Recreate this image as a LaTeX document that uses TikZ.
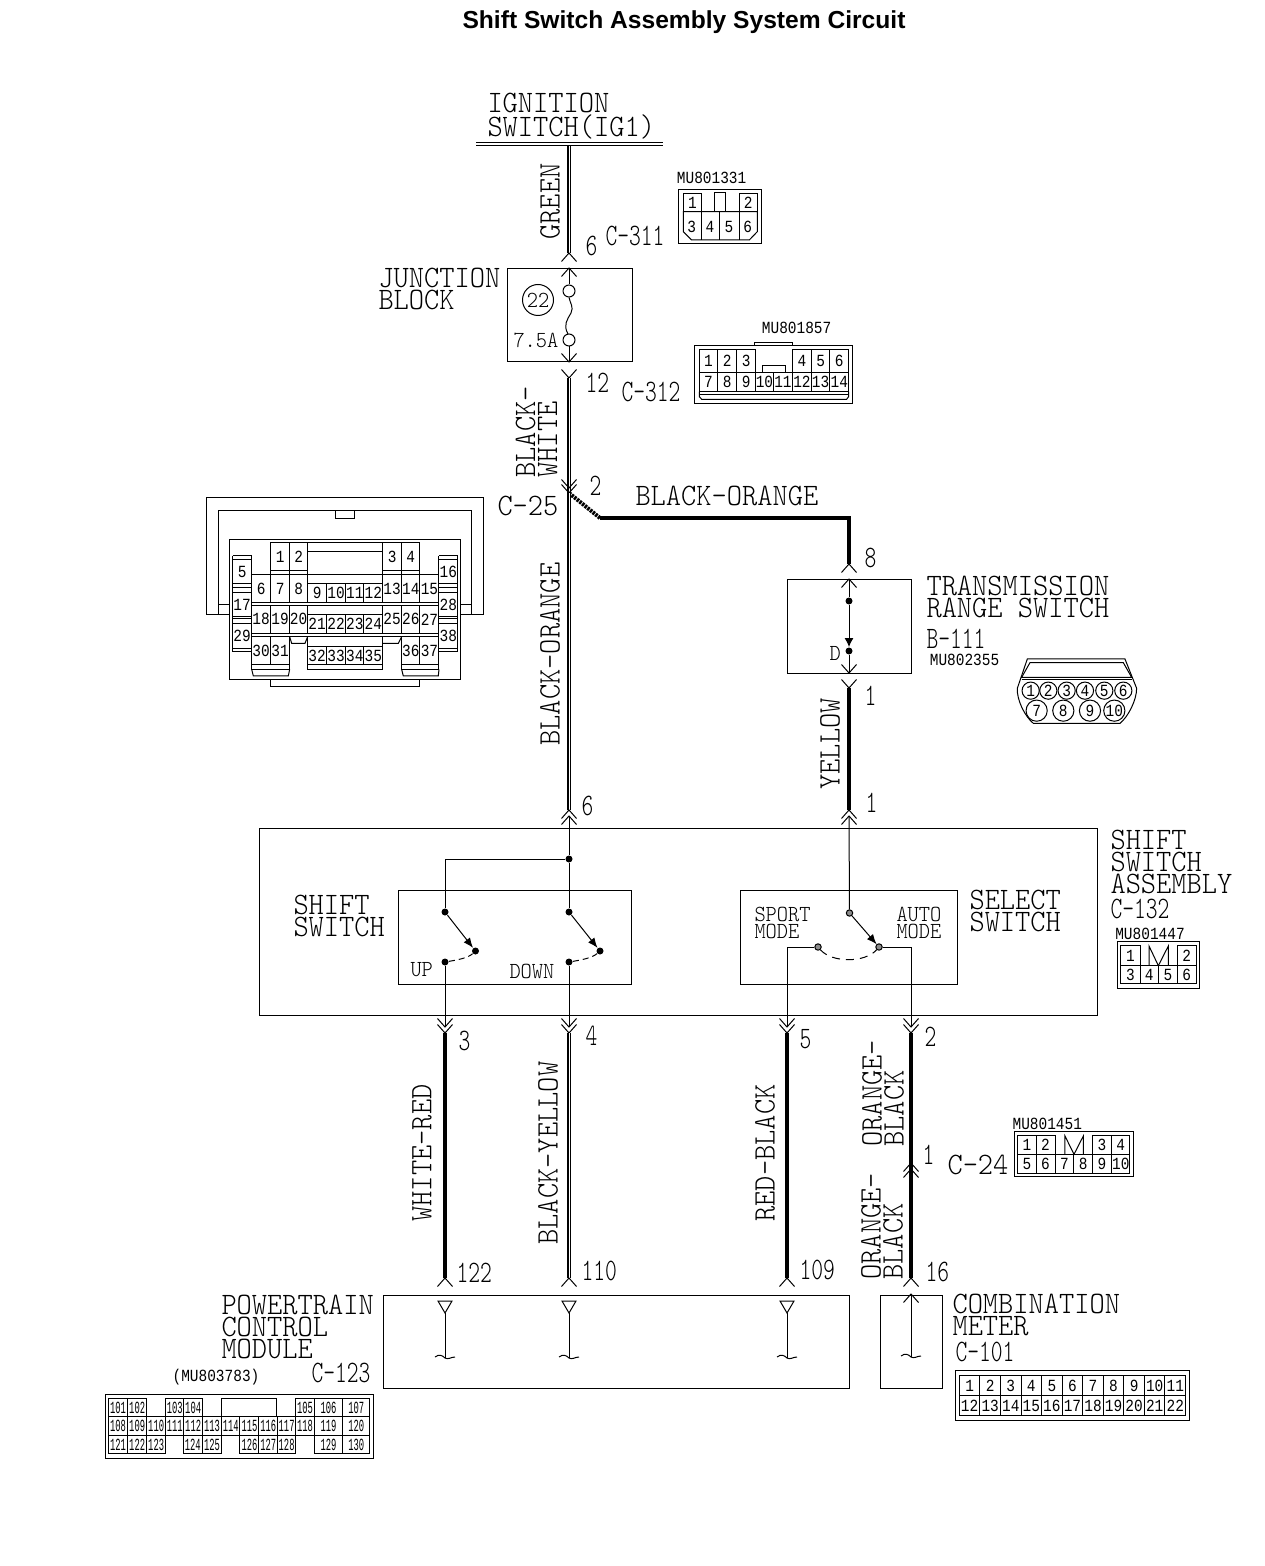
\documentclass[tikz,border=0pt]{standalone}
\usepackage{fontspec}
\usetikzlibrary{arrows.meta}
\setmainfont{Liberation Sans}
\newfontfamily\cadfont[FakeStretch=0.93]{Latin Modern Mono Light}
\newfontfamily\cadnarrow[FakeStretch=0.72]{Latin Modern Mono Light}
\newfontfamily\pinfont[FakeStretch=0.85]{Liberation Mono}
\newfontfamily\pintight[FakeStretch=0.52]{Liberation Mono}
\newcommand{\cadbig}{\cadfont\fontsize{15.6}{11}\selectfont}
\newcommand{\cadnum}{\cadnarrow\fontsize{15.6}{11}\selectfont}
\newcommand{\cadmid}{\cadfont\fontsize{11.5}{8.5}\selectfont}
\newcommand{\cadsmall}{\pinfont\fontsize{8.5}{8.5}\selectfont}
\newcommand{\cadtiny}{\pintight\fontsize{8.5}{8.5}\selectfont}
% One row of connector cells: prefix, top, bottom, list of left/right/number
\newcommand{\pinrow}[4]{%
  \foreach \xa/\xb/\num in {#4} {
    \draw (\xa,#2) rectangle (\xb,#3) node[midway,pinnum] (#1-\num) {\num};
  }%
}
\tikzset{
  lab/.style={font=\cadbig, inner sep=0pt, anchor=west, align=left},
  labnum/.style={font=\cadnum, inner sep=0pt, anchor=west, align=left},
  labmid/.style={font=\cadmid, inner sep=0pt, anchor=west, align=left},
  labsmall/.style={font=\cadsmall, inner sep=0pt},
  pinnum/.style={font=\cadsmall, inner sep=0pt},
  blockbox/.style={draw, inner sep=0pt},
  wire/.style={line width=2.2pt},
  wiretwin/.style={double, double distance=0.45pt, line width=0.8pt},
  dot/.style={circle, fill=black, inner sep=0pt, minimum size=3.5pt},
  hatchdot/.style={circle, draw, fill=black!45, inner sep=0pt, minimum size=3.2pt},
  forkup/.pic={\draw (-7.5,8.5) -- (0,0) -- (7.5,8.5);},
  forkdown/.pic={\draw (-7.5,-8.5) -- (0,0) -- (7.5,-8.5);},
  gndtail/.pic={\draw (-10,-1) .. controls (-6,-4) and (-3,-3) .. (0,0) .. controls (3,2) and (6,-1) .. (10,-1);},
  pinhead/.pic={\draw (-7,-57) -- (7,-57) -- (0,-45) -- cycle; \draw (0,-45) -- (0,0);}
}
\begin{document}
\begin{tikzpicture}[x=0.5pt, y=-0.5pt, line width=0.5pt]
\useasboundingbox (0,0) rectangle (1264,1566);

% Title
\node[font=\fontsize{12.3}{14}\selectfont\bfseries, inner sep=0pt] (title) at (684,22) {Shift Switch Assembly System Circuit};

% Ignition switch and its bus bar
\node[lab] (ign) at (487,116.5) {IGNITION\\SWITCH(IG1)};
\coordinate (busL) at (476,143);
\coordinate (busR) at (663,143);
\coordinate (busLb) at (476,146);
\coordinate (busRb) at (663,146);
\draw (busL) -- (busR);
\draw (busLb) -- (busRb);

% Main feed down to the fuse
\coordinate (busPin) at (569,146);
\coordinate (c311A) at (569,253);
\coordinate (c311B) at (569,268);
\draw[wiretwin] (busPin) -- (c311A);
\pic at (c311A) {forkup};
\pic at (c311B) {forkup};
\node[lab,rotate=90] (green) at (550,240) {GREEN};
\node[labnum] (n6a) at (585,246) {6};
\node[labnum] (c311) at (605,236) {C-311};

% Junction block with fuse
\node[blockbox,minimum width=62.5pt,minimum height=46.5pt] (jb) at (569.5,315.5) {};
\node[lab] (jbtxt) at (378,289) {JUNCTION\\BLOCK};
\node[circle,draw,inner sep=0pt,minimum size=15.5pt,font=\cadmid] (f22) at (538,300) {22};
\node[circle,draw,inner sep=0pt,minimum size=6pt] (fuseT) at (569,291) {};
\node[circle,draw,inner sep=0pt,minimum size=6pt] (fuseB) at (569,340) {};
\node[labmid] (amp) at (513,340) {7.5A};
\draw (c311B) -- (fuseT);
\draw (fuseT.south) .. controls (570,303) and (574,307) .. (571,313) .. controls (567,320) and (563,325) .. (568,334);
\coordinate (c312A) at (569,362);
\coordinate (c312B) at (569,378);
\draw (fuseB) -- (c312A);
\pic at (c312A) {forkdown};
\pic at (c312B) {forkdown};
\node[labnum] (n12) at (585,383) {12};
\node[labnum] (c312) at (621,392) {C-312};

% Splice C-25 and the branch to the range switch
\coordinate (c25A) at (569,488);
\coordinate (c25B) at (569,493);
\coordinate (split) at (600,518);
\coordinate (c8A) at (849,564);
\coordinate (c8B) at (849,579);
\draw[wiretwin] (c312B) -- (c25B);
\pic at (c25A) {forkdown};
\pic at (c25B) {forkdown};
\draw[line width=2pt, dash pattern=on 1.2pt off 0.5pt] (c25B) -- (split);
\draw[wire] (split) -- (c8A |- split) -- (c8A);
\pic at (c8A) {forkup};
\pic at (c8B) {forkup};
\node[lab,rotate=90] (bkwh) at (536.5,478) {BLACK-\\WHITE};
\node[labnum] (n2a) at (589,486) {2};
\node[lab] (c25) at (497,506) {C-25};
\node[lab] (bkor) at (635,496) {BLACK-ORANGE};
\node[labnum] (n8) at (864,558) {8};

% Transmission range switch
\node[blockbox,minimum width=62pt,minimum height=47pt] (trs) at (849,626) {};
\node[lab] (trstxt) at (926,596.5) {TRANSMISSION\\RANGE SWITCH};
\node[labnum] (b111) at (926,639) {B-111};
\node[labsmall] (mu2355) at (964.5,660) {MU802355};
\node[dot] (trsT) at (849,601) {};
\node[dot] (trsB) at (849,651) {};
\node[labmid] (dpos) at (829,653) {D};
\draw[-{Latex[length=4.5pt,width=4.5pt]}] (c8B) -- (trsT) -- (trsB);
\coordinate (trsC) at (849,673);
\coordinate (trsD) at (849,688);
\draw (trsB) -- (trsC);
\pic at (trsC) {forkdown};
\pic at (trsD) {forkdown};
\node[labnum] (n1a) at (864,696) {1};

% Yellow and black-orange wires into the assembly
\coordinate (asyA) at (569,810);
\coordinate (asyAb) at (569,816);
\coordinate (asyB) at (849,810);
\coordinate (asyBb) at (849,816);
\draw[wiretwin] (c25B) -- (asyA);
\draw[wire] (trsD) -- (asyB);
\pic at (asyA) {forkup};
\pic at (asyAb) {forkup};
\pic at (asyB) {forkup};
\pic at (asyBb) {forkup};
\node[lab,rotate=90] (bkor2) at (550,746) {BLACK-ORANGE};
\node[lab,rotate=90] (yellow) at (830,790) {YELLOW};
\node[labnum] (n6b) at (581,806) {6};
\node[labnum] (n1b) at (865,803) {1};

% Shift switch assembly
\node[blockbox,minimum width=419pt,minimum height=93.5pt] (asy) at (678,921.5) {};
\node[blockbox,minimum width=116.5pt,minimum height=47pt] (shbox) at (515,937) {};
\node[blockbox,minimum width=108.75pt,minimum height=47pt] (selbox) at (849,937) {};
\node[lab] (asytxt) at (1110,862) {SHIFT\\SWITCH\\ASSEMBLY};
\node[labnum] (c132) at (1110,909) {C-132};
\node[lab] (shtxt) at (293,915.5) {SHIFT\\SWITCH};
\node[lab] (seltxt) at (969,911) {SELECT\\SWITCH};
\node[labmid] (sport) at (754,923) {SPORT\\MODE};
\node[labmid] (auto) at (896,923) {AUTO\\MODE};
\node[labmid] (up) at (410,969.5) {UP};
\node[labmid] (down) at (509,971) {DOWN};

% Up and down contacts
\node[dot] (feed) at (569,859) {};
\node[dot] (upT) at (445,912) {};
\node[dot] (upB) at (445,962) {};
\node[dot] (upE) at (475.5,951) {};
\node[dot] (dnT) at (569,912) {};
\node[dot] (dnB) at (569,962) {};
\node[dot] (dnE) at (600,951) {};
\draw (asyAb) -- (feed) -- (dnT);
\draw (feed) -| (upT);
\draw[-{Latex[length=5pt,width=4pt]}] (upT) -- (upE);
\draw[-{Latex[length=5pt,width=4pt]}] (dnT) -- (dnE);
\draw[dashed, dash pattern=on 3pt off 2pt] (upB) .. controls (457,960) and (468,958) .. (upE);
\draw[dashed, dash pattern=on 3pt off 2pt] (dnB) .. controls (581,960) and (592,958) .. (dnE);

% Sport and auto contacts
\node[hatchdot] (selT) at (849.5,913) {};
\node[hatchdot] (selL) at (818,947) {};
\node[hatchdot] (selR) at (879,947) {};
\draw (asyBb) -- (selT);
\draw[-{Latex[length=5pt,width=4pt]}] (selT) -- (selR);
\draw[dashed, dash pattern=on 4pt off 3pt] (selL) .. controls (832,963) and (865,963) .. (selR);

% Outgoing pins of the assembly
\coordinate (o3A) at (445,1027);
\coordinate (o3B) at (445,1033);
\coordinate (o4A) at (569,1027);
\coordinate (o4B) at (569,1033);
\coordinate (o5A) at (787,1027);
\coordinate (o5B) at (787,1033);
\coordinate (o2A) at (911,1027);
\coordinate (o2B) at (911,1033);
\draw (upB) -- (o3A);
\draw (dnB) -- (o4A);
\draw (selL) -| (o5A);
\draw (selR) -| (o2A);
\foreach \pinpos in {o3A,o3B,o4A,o4B,o5A,o5B,o2A,o2B} {
  \pic at (\pinpos) {forkdown};
}
\node[labnum] (n3) at (458,1041) {3};
\node[labnum] (n4) at (585,1036) {4};
\node[labnum] (n5) at (799,1039) {5};
\node[labnum] (n2b) at (924,1037) {2};

% Wires down to the control module and the meter
\coordinate (pcmA) at (445,1278);
\coordinate (pcmB) at (569,1278);
\coordinate (pcmC) at (787,1278);
\coordinate (c24A) at (911,1163);
\coordinate (c24B) at (911,1169);
\coordinate (metA) at (911,1278);
\coordinate (metB) at (911,1294);
\draw[wire] (o3B) -- (pcmA);
\draw[wiretwin] (o4B) -- (pcmB);
\draw[wire] (o5B) -- (pcmC);
\draw[wire] (o2B) -- (c24A);
\draw[wire] (c24A) -- (metA);
\foreach \pinpos in {pcmA,pcmB,pcmC,c24A,c24B,metA,metB} {
  \pic at (\pinpos) {forkup};
}
\node[lab,rotate=90] (whrd) at (422,1222) {WHITE-RED};
\node[lab,rotate=90] (bkye) at (548,1245) {BLACK-YELLOW};
\node[lab,rotate=90] (rdbk) at (765,1222) {RED-BLACK};
\node[lab,rotate=90] (orbk) at (883,1147) {ORANGE-\\BLACK};
\node[lab,rotate=90] (orbk2) at (882,1280) {ORANGE-\\BLACK};
\node[labnum] (n1c) at (922,1155) {1};
\node[lab] (c24) at (947,1165) {C-24};
\node[labnum] (n122) at (456,1273) {122};
\node[labnum] (n110) at (581,1271) {110};
\node[labnum] (n109) at (799,1270) {109};
\node[labnum] (n16) at (925,1272) {16};

% Control module and combination meter
\node[blockbox,minimum width=233pt,minimum height=46.5pt] (pcm) at (616,1342) {};
\node[blockbox,minimum width=31pt,minimum height=46.5pt] (met) at (911,1342) {};
\node[lab] (pcmtxt) at (221,1327) {POWERTRAIN\\CONTROL\\MODULE};
\node[labnum] (c123) at (311,1373) {C-123};
\node[labsmall] (mu3783) at (216,1377.5) {(MU803783)};
\node[lab] (mettxt) at (952,1315) {COMBINATION\\METER};
\node[labnum] (c101) at (955,1352) {C-101};
\foreach \pinx in {445,569,787} {
  \pic at (\pinx,1358) {pinhead};
  \pic at (\pinx,1358) {gndtail};
}
\coordinate (metC) at (911,1357);
\draw (metB) -- (metC);
\pic at (metC) {gndtail};

% Connector MU801331 and MU801857
\begin{scope}[shift={(470,90)},scale=0.3333]
\node[labsmall] (mu1331) at (725,264) {MU801331};
\draw (627,298) rectangle (875,460);
\pinrow{cA}{310}{365}{640/695/1, 808/862/2}
\draw (733,362) -- (733,308) -- (767,308) -- (767,362);
\draw (640,365) -- (862,365) -- (862,425) -- (838,450) -- (665,450) -- (640,425) -- cycle;
\foreach \xa/\num in {695/3,750/4,808/5} {
  \draw (\xa,365) -- (\xa,450);
}
\foreach \xa/\num in {665/3,720/4,777/5,833/6} {
  \node[pinnum] (cA-\num) at (\xa,412) {\num};
}
\node[labsmall] (mu1857) at (980,715) {MU801857};
\draw (675,767) rectangle (1148,940);
\draw (855,767) -- (855,757) -- (968,757) -- (968,767);
\pinrow{cB}{778}{848}{688/743/1, 743/800/2, 800/857/3, 968/1024/4, 1024/1080/5, 1080/1136/6}
\pinrow{cB}{848}{905}{688/743/7, 743/800/8, 800/857/9, 857/910/10, 910/968/11, 968/1024/12, 1024/1080/13, 1080/1136/14}
\draw (877,848) -- (877,828) -- (947,828) -- (947,848);
\draw (688,905) -- (688,920) -- (695,928) -- (1130,928) -- (1136,920) -- (1136,905);
\draw (688,913) -- (1136,913);
\end{scope}

% Connector C-25 body
\begin{scope}[shift={(190,480)},scale=0.3333]
\draw (118,405) -- (50,405) -- (50,52) -- (880,52) -- (880,405) -- (812,405);
\draw (118,375) -- (85,375) -- (85,405) -- (85,92) -- (845,92) -- (845,405) -- (845,375) -- (812,375);
\draw (437,92) -- (437,115) -- (495,115) -- (495,92);
\draw (118,178) rectangle (812,598);
\draw (242,598) -- (242,620) -- (688,620) -- (688,598);
% Top rows
\pinrow{cC}{188}{272}{242/299/1, 299/353/2, 578/635/3, 635/690/4}
\draw (353,188) rectangle (578,283);
\draw (353,215) -- (578,215);
\draw (242,272) -- (242,283) -- (353,283);
\draw (299,272) -- (299,283);
\draw (578,272) -- (578,283) -- (690,283) -- (690,272);
\draw (635,272) -- (635,283);
\pinrow{cC}{283}{368}{185/242/6, 242/299/7, 299/353/8, 578/635/13, 635/690/14, 690/747/15}
\draw (353,283) -- (353,310) -- (578,310);
\pinrow{cC}{310}{368}{353/410/9, 410/467/10, 467/522/11, 522/578/12}
\draw (185,376) rectangle (747,368);
% Lower rows
\pinrow{cC}{376}{460}{185/242/18, 242/299/19, 299/353/20, 578/635/25, 635/690/26, 690/747/27}
\draw (353,405) -- (578,405);
\pinrow{cC}{405}{460}{353/410/21, 410/467/22, 467/522/23, 522/578/24}
\draw (185,470) rectangle (747,460);
\pinrow{cC}{470}{555}{185/242/30, 242/299/31, 635/690/36, 690/747/37}
\pinrow{cC}{500}{555}{353/410/32, 410/467/33, 467/522/34, 522/578/35}
\draw (353,470) -- (353,568) -- (578,568) -- (578,470);
\draw (353,555) -- (578,555);
\draw (299,470) -- (305,490) -- (345,490) -- (353,470);
\draw (578,490) -- (625,490) -- (635,470);
\foreach \xa/\xb/\xc/\xd in {185/190/295/299, 635/640/745/747} {
  \draw (\xa,555) -- (\xa,568) -- (\xd,568) -- (\xd,555);
  \draw (\xa,568) -- (\xb,588) -- (\xc,588) -- (\xd,568);
}
% Side columns
\foreach \xa/\xb in {128/185, 747/803} {
  \draw (\xa,228) -- (\xb,228);
  \draw (\xa,322) -- (\xb,322);
  \draw (\xa,417) -- (\xb,417);
  \draw (\xa,515) -- (\xb,515);
}
\pinrow{cC}{240}{312}{128/185/5, 747/803/16}
\pinrow{cC}{337}{410}{128/185/17, 747/803/28}
\pinrow{cC}{430}{505}{128/185/29, 747/803/38}
\draw (128,228) -- (128,515);
\draw (803,228) -- (803,515);
\draw (185,228) -- (185,240);
\draw (747,228) -- (747,240);
\end{scope}

% Connector MU802355
\begin{scope}[shift={(770,560)},scale=0.3333]
\draw (772,297) -- (1065,297) -- (1100,385) .. controls (1100,420) and (1075,470) .. (1050,490) -- (790,490) .. controls (765,470) and (740,420) .. (742,385) -- cycle;
\draw (780,308) -- (1060,308) -- (1085,352) -- (755,352) -- cycle;
\draw (755,360) -- (1085,360);
\foreach \xa/\num in {782/1,835/2,890/3,945/4,1003/5,1060/6} {
  \node[circle,draw,inner sep=0pt,minimum size=8.6pt,font=\cadsmall] (cD-\num) at (\xa,392) {\num};
}
\foreach \xa/\num in {800/7,880/8,960/9,1033/10} {
  \node[circle,draw,inner sep=0pt,minimum size=10.6pt,font=\cadsmall] (cD-\num) at (\xa,452) {\num};
}
\end{scope}

% Connector MU801447
\begin{scope}[shift={(1100,820)},scale=0.3333]
\node[labsmall] (mu1447) at (150,342) {MU801447};
\draw (52,365) rectangle (297,505);
\pinrow{cE}{378}{437}{62/120/1, 232/288/2}
\pinrow{cE}{437}{492}{62/120/3, 120/175/4, 175/232/5, 232/288/6}
\draw (147,437) -- (147,378) -- (175,437) -- (205,378) -- (205,437);
\end{scope}

% Connector MU801451 and the meter connector
\begin{scope}[shift={(870,1110)},scale=0.3333]
\node[labsmall] (mu1451) at (532,42) {MU801451};
\draw (433,65) rectangle (790,200);
\pinrow{cF}{75}{133}{443/498/1, 498/555/2, 667/725/3, 725/780/4}
\pinrow{cF}{133}{190}{443/498/5, 498/555/6, 555/612/7, 612/667/8, 667/725/9, 725/780/10}
\draw (585,133) -- (585,78) -- (612,133) -- (640,78) -- (640,133);
\draw (257,783) rectangle (958,933);
\foreach \num in {1,...,11} {
  \draw (268+61.7*\num-61.7,797) rectangle (268+61.7*\num,858) node[midway,pinnum] (cG-\num) {\num};
}
\foreach \num [evaluate=\num as \top using int(\num+11)] in {1,...,11} {
  \draw (268+61.7*\num-61.7,858) rectangle (268+61.7*\num,918) node[midway,pinnum] (cG-\top) {\top};
}
\end{scope}

% Connector MU803783
\begin{scope}[shift={(100,1280)},scale=0.3333,pinnum/.append style={font=\cadtiny}]
\draw (15,343) rectangle (820,535);
\pinrow{cH}{355}{410}{25/83/101, 83/140/102, 197/252/103, 252/307/104, 587/643/105, 643/728/106, 728/810/107}
\draw (365,410) -- (365,355) -- (530,355) -- (530,410);
\pinrow{cH}{410}{465}{25/83/108, 83/140/109, 140/197/110, 197/252/111, 252/307/112, 307/365/113, 365/420/114, 420/477/115, 477/533/116, 533/587/117, 587/643/118, 643/728/119, 728/810/120}
\pinrow{cH}{465}{522}{25/83/121, 83/140/122, 140/197/123, 250/307/124, 307/365/125, 420/477/126, 477/533/127, 533/587/128, 643/728/129, 728/810/130}
\end{scope}

\end{tikzpicture}
\end{document}
